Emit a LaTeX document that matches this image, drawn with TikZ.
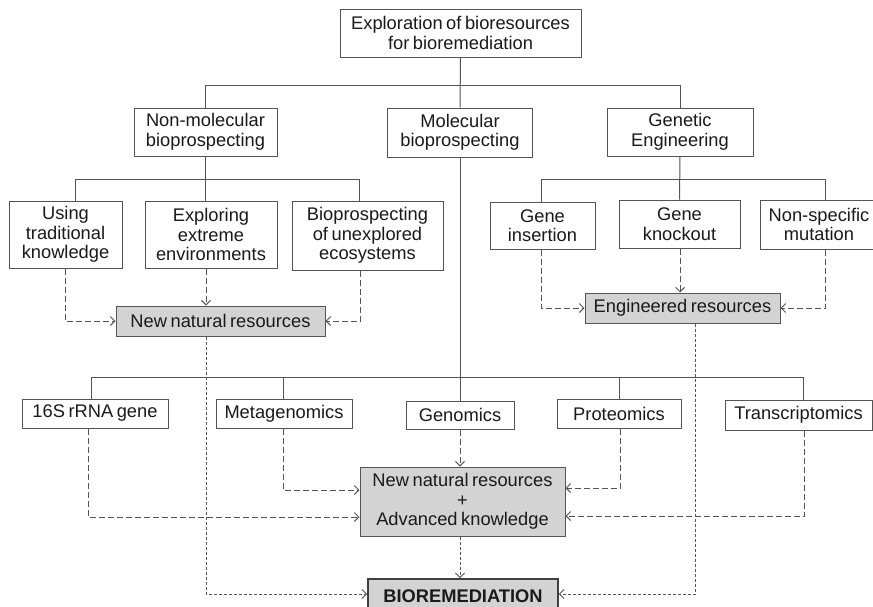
\documentclass[tikz,border=0pt]{standalone}
\usepackage{fontspec}
\setmainfont[WordSpace=0.7]{Liberation Sans}
\usetikzlibrary{arrows.meta}
\definecolor{ln}{HTML}{555555}
\definecolor{fl}{HTML}{D3D3D3}
\definecolor{tx}{HTML}{1A1A1A}
\tikzset{
  bx/.style={draw=ln, line width=1pt, text=tx, align=center, inner sep=0pt,
    font=\fontsize{18.3}{19.5}\selectfont},
  gbx/.style={bx, fill=fl},
  tree/.style={draw=ln, line width=1pt},
  dsh/.style={draw=ln, line width=0.9pt, dash pattern=on 6pt off 3pt, -{Straight Barb[length=4.5pt,width=9pt]}},
  dot/.style={draw=ln, line width=0.9pt, dash pattern=on 3pt off 2pt, -{Straight Barb[length=4.5pt,width=9pt]}},
}
\begin{document}
\begin{tikzpicture}[x=1pt,y=-1pt]
\clip (0,0) rectangle (873,606);
\fill[white] (0,0) rectangle (873,606);
% level 0
\node[bx, minimum width=241, minimum height=48] (top) at (460.5,33) {Exploration of bioresources\\for bioremediation};
% level 1
\node[bx, minimum width=143, minimum height=48] (nonmol) at (205.5,132) {Non-molecular\\bioprospecting};
\node[bx, minimum width=145, minimum height=49] (mol) at (460,132.5) {Molecular\\bioprospecting};
\node[bx, minimum width=146, minimum height=48] (gen) at (680,132) {Genetic\\Engineering};
% level 2 left
\node[bx, minimum width=113, minimum height=67] (using) at (65.5,234.5) {Using\\traditional\\knowledge};
\node[bx, minimum width=132, minimum height=67] (explo) at (211,234.5) {Exploring\\extreme\\environments};
\node[bx, minimum width=151, minimum height=69] (biop) at (367.5,235.5) {Bioprospecting\\of unexplored\\ecosystems};
% level 2 right
\node[bx, minimum width=105, minimum height=47] (ins) at (542.5,225.5) {Gene\\insertion};
\node[bx, minimum width=121, minimum height=48] (ko) at (679.5,224) {Gene\\knockout};
\node[bx, minimum width=118, minimum height=49] (nsm) at (819,224.5) {Non-specific\\mutation};
% resources
\node[gbx, minimum width=209, minimum height=30] (newnat) at (220.5,321) {New natural resources};
\node[gbx, minimum width=195, minimum height=30] (eng) at (682.5,308) {Engineered resources};
% molecular row
\node[bx, minimum width=146, minimum height=29] (rna) at (95,413.5) {16S rRNA gene};
\node[bx, minimum width=136, minimum height=29] (meta) at (284,413.5) {Metagenomics};
\node[bx, minimum width=108, minimum height=28] (genom) at (460,415) {Genomics};
\node[bx, minimum width=124, minimum height=29] (prot) at (619,413.5) {Proteomics};
\node[bx, minimum width=147, minimum height=30] (trans) at (798.5,415) {Transcriptomics};
% central
\node[gbx, minimum width=205, minimum height=69] (cen) at (462.5,501.5) {New natural resources\\+\\Advanced knowledge};
% bottom
\node[gbx, line width=1.8pt, draw=black!75, minimum width=190, minimum height=36,
  font=\fontsize{18.3}{19.5}\selectfont\bfseries] (bio) at (463,597) {\raisebox{2pt}{BIOREMEDIATION}};

% tree lines
\coordinate (b0) at (0,85);
\coordinate (b1) at (0,179);
\coordinate (b2) at (0,377);
\draw[tree] (top.south) -- (mol.north);
\draw[tree] (nonmol.north) |- (b0 -| gen.north) -- (gen.north);
\draw[tree] (nonmol.south) -- (nonmol.south |- explo.north);
\draw[tree] (using.north -| 75,0) |- (b1 -| 359,0) -- (biop.north -| 359,0);
\draw[tree] (gen.south) -- (ko.north);
\draw[tree] (ins.north -| 541,0) |- (b1 -| 825,0) -- (nsm.north -| 825,0);
\draw[tree] (mol.south) -- (genom.north);
\draw[tree] (rna.north -| 91,0) |- (b2 -| 803,0) -- (trans.north -| 803,0);
\draw[tree] (meta.north -| 283,0) -- (b2 -| 283,0);
\draw[tree] (prot.north -| 619,0) -- (b2 -| 619,0);

% dashed arrows
\draw[dsh] (using.south -| 65,0) |- (newnat.west);
\draw[dsh] (explo.south -| 206,0) -- (newnat.north -| 206,0);
\draw[dsh] (biop.south -| 360,0) |- (newnat.east);
\draw[dsh] (ins.south -| 541,0) |- (eng.west);
\draw[dsh] (ko.south -| 680,0) -- (eng.north -| 680,0);
\draw[dsh] (nsm.south -| 825,0) |- (eng.east);
\draw[dsh] (meta.south -| 283,0) |- (cen.west |- 0,490);
\draw[dsh] (rna.south -| 88,0) |- (cen.west |- 0,517);
\draw[dsh] (genom.south) -- (cen.north -| genom.south);
\draw[dsh] (prot.south -| 620,0) |- (cen.east |- 0,488);
\draw[dsh] (trans.south -| 804,0) |- (cen.east |- 0,516);

% dotted arrows to bioremediation
\draw[dot] (newnat.south -| 206,0) |- (bio.west |- 0,594);
\draw[dot] (eng.south -| 695,0) |- (bio.east |- 0,594);
\draw[dot] (cen.south -| 460,0) -- (bio.north -| 460,0);
\end{tikzpicture}
\end{document}
